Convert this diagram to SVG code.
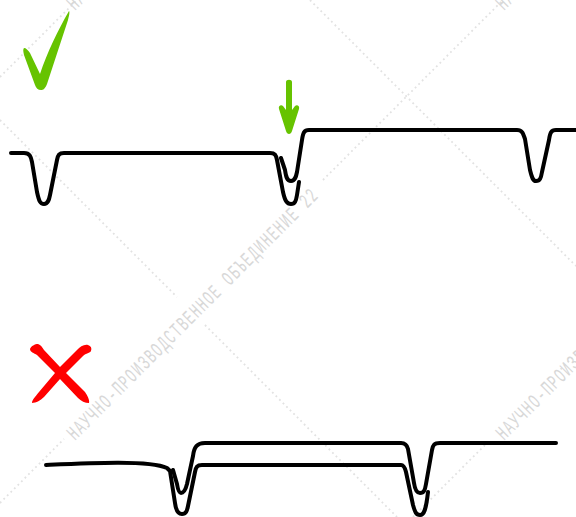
<svg xmlns="http://www.w3.org/2000/svg" width="576" height="517" viewBox="0 0 576 517">
<style>
.dot{fill:none;stroke:#e2e2e2;stroke-width:1.8;stroke-dasharray:1.8 3.2}
.wm{font-family:"Liberation Mono",monospace;font-size:21px;fill:#d8d8d8}
.wave{fill:none;stroke:#000;stroke-width:4;stroke-linecap:round;stroke-linejoin:round}
.ok{fill:#66c300}
.bad{fill:#ff0000}
</style>
<rect width="576" height="517" fill="#fff"/>
<g id="watermark">
<path class="dot" d="M0 120L177 297M205 325L397 517M310 0L576 266M0 77L77 0M0 503L64 439M323 180L503 0M413 517L490 440M576 354L560 370"/>
<g class="wm">
<text transform="translate(75 441) rotate(-45) scale(0.6 1)" textLength="575" lengthAdjust="spacing">НАУЧНО-ПРОИЗВОДСТВЕННОЕ ОБЪЕДИНЕНИЕ 22</text>
<text transform="translate(504 441) rotate(-45) scale(0.6 1)" textLength="575" lengthAdjust="spacing">НАУЧНО-ПРОИЗВОДСТВЕННОЕ ОБЪЕДИНЕНИЕ 22</text>
<text transform="translate(75 11) rotate(-45) scale(0.6 1)" textLength="575" lengthAdjust="spacing">НАУЧНО-ПРОИЗВОДСТВЕННОЕ ОБЪЕДИНЕНИЕ 22</text>
<text transform="translate(504 11) rotate(-45) scale(0.6 1)" textLength="575" lengthAdjust="spacing">НАУЧНО-ПРОИЗВОДСТВЕННОЕ ОБЪЕДИНЕНИЕ 22</text>
</g>
</g>
<g id="connectors">
<path class="wave" d="M11 153H24C30 153 31 157 32 162L37 192C39 201 40 204 44 204C48 204 49 200 50 195L57 160C58 155 59 153 64 153H270C275 153 276 155 277 160L283 192C285 201 287 204 291 204C295 204 296 201 297 195L299 182"/>
<path class="wave" d="M281 158L285 170C286 177 287 181 291 181C295 181 296 177 297 172L302 140C303 133 304 130 309 130H517C522 130 523 133 525 139L530 170C532 178 533 181 536 181C540 181 541 178 542 172L549 140C550 133 551 130 556 130H576"/>
<path class="wave" d="M46 465C90 463 150 460 167 468L170 471L175 503C176 511 178 514 182 514C186 514 187 511 188 506L195 472C196 467 197 465 202 465H401C404 465 405 468 406 472L413 505C415 512 416 515 420 515C424 515 426 510 428 492"/>
<path class="wave" d="M173 470L177 484C178 490 179 493 181 493C184 493 186 488 187 484L193 456C194 447 197 443 205 443H401C405 443 407 445 408 449L414 483C415 490 417 493 420 493C424 493 425 490 426 484L432 450C433 445 434 443 440 443H556"/>
</g>
<g id="check">
<path class="ok" d="M69 11C70 12 69 16 68 20L47 84C45 89 43 90 41 90C38 90 36 88 35 85L24 55C23 51 23 49 24 48C26 48 28 50 30 53L40 74C47 53 58 30 69 11Z"/>
</g>
<g id="arrow">
<path class="ok" d="M286 82C286 79 292 79 292 82L292 110L295 106C297 104 300 106 299 109L292 131C291 135 287 135 286 131L279 109C278 106 281 104 283 106L286 110Z"/>
</g>
<g id="cross">
<path class="bad" d="M30 349C31 346 35 344 38 344C41 345 42 347 44 350L60 367L77 350C80 347 84 344 88 345C91 346 92 348 91 351C90 353 86 353 83 356L66 373L85 392C87 395 90 400 89 403C85 403 81 401 78 398L60 379L44 397C41 400 36 403 32 403C32 400 35 397 39 392L55 373L37 355C34 353 30 352 30 349Z"/>
</g>
</svg>
